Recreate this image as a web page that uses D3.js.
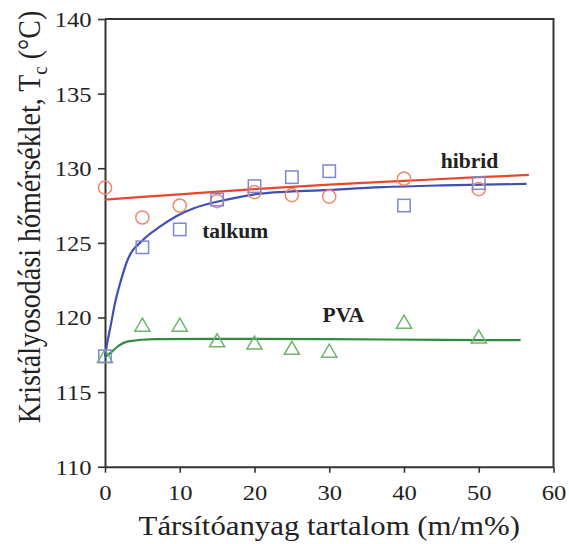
<!DOCTYPE html>
<html>
<head>
<meta charset="utf-8">
<script src="https://cdn.jsdelivr.net/npm/d3@7"></script>
<style>
  html, body { margin: 0; padding: 0; background: #fff; }
  svg { display: block; }
  text { font-family: "Liberation Serif", "Times New Roman", serif; fill: #222; }
</style>
</head>
<body>
<svg id="chart" width="569" height="544"></svg>
<script>
// Filler content (m/m%) at which Tc was measured
const loadings = [0, 5, 10, 15, 20, 25, 30, 40, 50];

// Measured crystallization temperatures (°C)
const hibridTc = [128.7, 126.7, 127.5, 127.8, 128.4, 128.2, 128.1, 129.3, 128.6];
const talkumTc = [117.4, 124.7, 125.9, 127.9, 128.8, 129.4, 129.8, 127.5, 129.0];
const pvaTc    = [117.4, 119.5, 119.5, 118.45, 118.3, 117.95, 117.75, 119.7, 118.7];

// Fitted trend curves, sampled as [loading, Tc]
const hibridFit = [[0, 127.9], [10, 128.25], [20, 128.6], [30, 128.9], [40, 129.15], [50, 129.4], [56.7, 129.55]];
const talkumFit = [[0, 117.4], [0.3, 118.3], [0.7, 119.3], [1.4, 121.1], [2.2, 122.6], [2.9, 123.7],
                   [5.1, 125.2], [7.4, 126.1], [9.6, 126.8], [11.8, 127.3], [16.3, 127.9], [20.7, 128.3],
                   [30, 128.55], [37, 128.73], [45, 128.85], [56.4, 128.95]];
const pvaFit    = [[0, 117.35], [0.9, 117.7], [1.8, 118.1], [3.1, 118.4], [6.7, 118.55], [15, 118.57],
                   [30, 118.55], [45, 118.5], [55.6, 118.48]];

// Axis ticks
const xTicks = [0, 10, 20, 30, 40, 50, 60];
const yTicks = [110, 115, 120, 125, 130, 135, 140];

// Series labels placed in data coordinates [loading, Tc]
const labelNames = ["hibrid", "talkum", "PVA"];
const labelAt = [[44.9, 130.0], [13.0, 125.35], [29.1, 119.7]];

const svg = d3.select("#chart");
const x = d3.scaleLinear().domain([0, 60]).range([105, 553.5]);
const y = d3.scaleLinear().domain([110, 140]).range([466.7, 19]);

const TEXT_SX = 1.12;

// Frame (top and right borders)
svg.append("path")
  .attr("d", `M${x(0)},${y(140)}H${x(60)}V${y(110)}`)
  .attr("fill", "none").attr("stroke", "#333").attr("stroke-width", 2);

// Axes
const xAxis = svg.append("g")
  .attr("transform", `translate(0,${y(110)})`)
  .call(d3.axisBottom(x).tickValues(xTicks).tickSize(6).tickPadding(12).tickSizeOuter(0));
const yAxis = svg.append("g")
  .attr("transform", `translate(${x(0)},0)`)
  .call(d3.axisLeft(y).tickValues(yTicks).tickSize(7).tickPadding(5).tickSizeOuter(0));

[xAxis, yAxis].forEach(g => {
  g.select(".domain").attr("stroke", "#333").attr("stroke-width", 2);
  g.selectAll(".tick line").attr("stroke", "#333").attr("stroke-width", 1.6);
  g.selectAll(".tick text")
    .attr("font-size", 22)
    .attr("font-family", "Liberation Serif, Times New Roman, serif")
    .attr("fill", "#222");
});
yAxis.selectAll(".tick text").attr("transform", `scale(${TEXT_SX},1)`).attr("x", -12 / 1).attr("dy", "0.34em");
xAxis.selectAll(".tick text").attr("transform", `scale(${TEXT_SX},1)`);

// Fit lines
const line = d3.line().x(d => x(d[0])).y(d => y(d[1])).curve(d3.curveMonotoneX);
const fits = [
  { data: pvaFit, color: "#2e8c3c" },
  { data: talkumFit, color: "#3d50b4" },
  { data: hibridFit, color: "#e8462e" }
];
fits.forEach(f => {
  svg.append("path").attr("d", line(f.data))
    .attr("fill", "none").attr("stroke", f.color).attr("stroke-width", 2.2);
});

// Markers
const pts = arr => loadings.map((v, i) => [v, arr[i]]);

svg.append("g").selectAll("path").data(pts(pvaTc)).join("path")
  .attr("transform", d => `translate(${x(d[0])},${y(d[1])})`)
  .attr("d", "M0,-6.8L7.6,6.2L-7.6,6.2Z")
  .attr("fill", "none").attr("stroke", "#6db46d").attr("stroke-width", 1.5);

svg.append("g").selectAll("circle").data(pts(hibridTc)).join("circle")
  .attr("cx", d => x(d[0])).attr("cy", d => y(d[1])).attr("r", 6.6)
  .attr("fill", "none").attr("stroke", "#f4866a").attr("stroke-width", 1.5);

svg.append("g").selectAll("rect").data(pts(talkumTc)).join("rect")
  .attr("x", d => x(d[0]) - 6.2).attr("y", d => y(d[1]) - 6.2)
  .attr("width", 12.4).attr("height", 12.4)
  .attr("fill", "none").attr("stroke", "#7e87cf").attr("stroke-width", 1.5);

// Series labels
labelNames.forEach((name, i) => {
  svg.append("text")
    .attr("transform", `translate(${x(labelAt[i][0])},${y(labelAt[i][1])}) scale(1.08,1)`)
    .attr("font-size", 20).attr("font-weight", "bold")
    .text(name);
});

// Axis titles
svg.append("text")
  .attr("transform", `translate(${(x(0) + x(60)) / 2},535) scale(1.1,1)`)
  .attr("text-anchor", "middle").attr("font-size", 28)
  .text("Társítóanyag tartalom (m/m%)");

const yt = svg.append("text")
  .attr("transform", "translate(40,217) rotate(-90) scale(1,1.1)")
  .attr("text-anchor", "middle").attr("font-size", 28);
yt.append("tspan").text("Kristályosodási hőmérséklet, T");
yt.append("tspan").attr("font-size", 19).attr("dy", 6).text("c");
yt.append("tspan").attr("dy", -6).text(" (°C)");
</script>
</body>
</html>
